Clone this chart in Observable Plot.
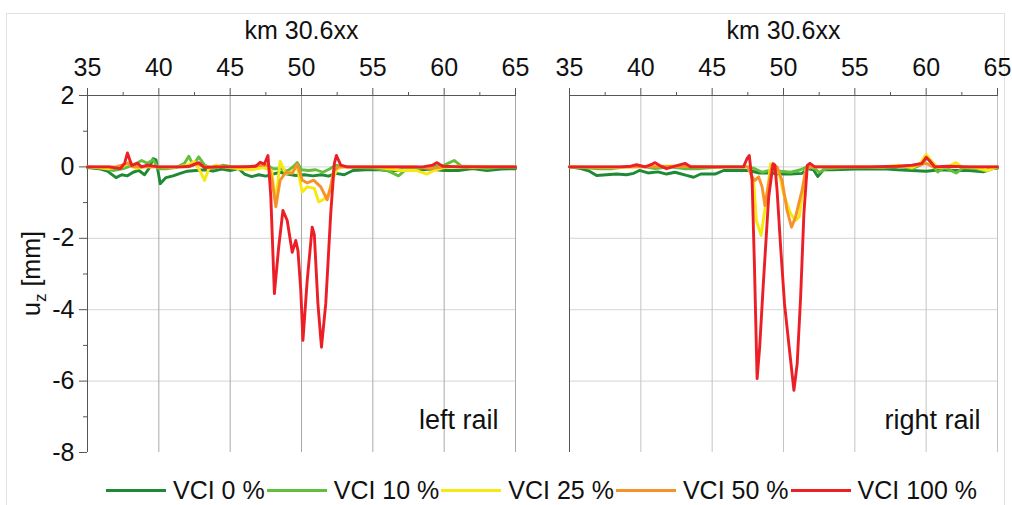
<!DOCTYPE html>
<html>
<head>
<meta charset="utf-8">
<script src="https://cdn.jsdelivr.net/npm/d3@7"></script>
<script src="https://cdn.jsdelivr.net/npm/@observablehq/plot@0.6"></script>
<style>
  body { margin: 0; background: #fff; font-family: "Liberation Sans", Arial, sans-serif; }
  #fig { position: relative; width: 1012px; height: 505px; overflow: hidden; background: #fff; }
  #frame { position: absolute; left: 6px; top: 13px; width: 999px; height: 520px; border: 1px solid #e2e2e2; box-sizing: border-box; }
  #left { position: absolute; left: 0; top: 0; }
  #right { position: absolute; left: 530px; top: 0; }
  #legend { position: absolute; left: 106px; top: 474px; height: 32px; display: flex; align-items: center; font-size: 25px; color: #111; white-space: nowrap; }
  .item { display: flex; align-items: center; margin-right: 2px; }
  .swatch { display: inline-block; width: 60px; height: 3px; margin-right: 7px; }
</style>
</head>
<body>
<div id="fig">
  <div id="frame"></div>
  <div id="left"></div>
  <div id="right"></div>
  <div id="legend"></div>
</div>
<script>
// Vertical rail displacement u_z [mm] along km 30.6xx for five VCI levels

const seriesNames = ["VCI 0 %", "VCI 10 %", "VCI 25 %", "VCI 50 %", "VCI 100 %"];
const seriesColors = ["#1f8a36", "#62bf3c", "#f6e812", "#f7922a", "#ec1f26"];

const xTicks = [35, 40, 45, 50, 55, 60, 65];
const xMinorTicks = [37.5, 42.5, 47.5, 52.5, 57.5, 62.5];
const yTicks = [2, 0, -2, -4, -6, -8];
const yMinorTicks = [1, -1, -3, -5, -7];

// left rail: [position, u_z]
const leftVci0 = [[35,-0.02],[35.8,-0.05],[36.4,-0.12],[37.0,-0.3],[37.4,-0.22],[37.8,-0.25],[38.2,-0.15],[38.6,-0.1],[39.0,-0.22],[39.3,-0.05],[39.6,0.23],[39.8,0.2],[40.1,-0.47],[40.5,-0.3],[41.0,-0.25],[41.5,-0.18],[42.0,-0.12],[42.6,-0.1],[43.2,-0.08],[43.8,-0.12],[44.4,-0.06],[45.0,-0.1],[45.6,-0.05],[46.0,-0.2],[46.5,-0.27],[47.0,-0.22],[47.5,-0.26],[48.0,-0.2],[48.5,-0.15],[49.0,-0.2],[49.6,-0.24],[50.2,-0.22],[50.8,-0.25],[51.4,-0.22],[51.9,-0.26],[52.4,-0.18],[53.0,-0.22],[53.6,-0.1],[54.5,-0.08],[55.5,-0.08],[56.3,-0.12],[57.0,-0.08],[58.0,-0.1],[59.0,-0.06],[60.0,-0.1],[61.0,-0.1],[62.0,-0.05],[63.0,-0.1],[64.0,-0.06],[65,-0.05]];
const leftVci10 = [[35,0],[36,-0.02],[36.8,-0.1],[37.5,-0.05],[38.2,0.05],[38.8,0.18],[39.2,0.1],[39.6,0.2],[40.0,-0.05],[40.6,-0.05],[41.2,-0.02],[41.8,0.1],[42.1,0.3],[42.4,0.05],[42.8,0.28],[43.2,0.05],[43.8,-0.05],[44.5,0.05],[45.2,0],[46,-0.02],[47,0.02],[47.6,0.05],[48.0,-0.05],[48.5,-0.05],[49.0,-0.12],[49.4,0.0],[49.7,0.12],[50.0,-0.08],[50.5,-0.1],[51.0,-0.08],[51.5,-0.15],[52.0,-0.05],[52.4,0.05],[53,0],[54,-0.02],[55,-0.03],[56,-0.1],[56.8,-0.25],[57.3,-0.08],[58,-0.05],[59,0],[60,0.05],[60.7,0.18],[61.2,0.02],[62,0],[63,-0.05],[64,0],[65,0]];
const leftVci25 = [[35,0],[36.5,-0.05],[37.5,0.02],[38.0,0.15],[38.4,-0.05],[39,0],[40,0],[41,-0.02],[42,0.05],[42.5,0.15],[43.0,-0.2],[43.2,-0.38],[43.5,-0.05],[44,0.05],[44.5,0],[45.5,-0.05],[46.5,-0.08],[47.3,-0.02],[47.9,-0.1],[48.2,-0.98],[48.5,0.16],[48.9,-0.19],[49.3,-0.15],[49.7,0],[50.05,-0.7],[50.4,-0.56],[50.9,-0.6],[51.2,-0.98],[51.6,-0.9],[51.9,-0.75],[52.15,-0.38],[52.5,-0.05],[53,0],[55,0],[56,-0.05],[57,-0.1],[58,-0.1],[58.8,-0.2],[59.3,-0.1],[60,-0.02],[61,0],[62,-0.02],[63,0],[65,0]];
const leftVci50 = [[35,0],[37,0],[37.8,0.1],[38.2,0],[40,0],[42,0],[42.6,0.1],[43.2,0],[45,0],[46.5,0.02],[47.3,0.05],[47.7,0.05],[47.95,-0.4],[48.2,-1.12],[48.5,-0.38],[48.9,-0.15],[49.35,-0.18],[49.7,0.08],[50.05,-0.37],[50.4,-0.45],[50.85,-0.37],[51.35,-0.56],[51.8,-0.92],[52.05,-0.56],[52.25,-0.1],[52.6,0],[55,0],[58,0],[59,-0.05],[60,0],[61,0.02],[65,0]];
const leftVci100 = [[35,0],[36.5,0],[37.3,-0.05],[37.6,0.1],[37.8,0.39],[38.1,0.04],[38.5,0.1],[38.8,0],[39.2,0.05],[40,0],[41.5,0],[42.2,0.02],[42.8,0.12],[43.2,-0.02],[44,0],[46,0],[46.8,0.02],[47.1,0.13],[47.4,0.08],[47.65,0.32],[47.85,-0.84],[48.1,-3.55],[48.4,-2.25],[48.7,-1.22],[49.0,-1.5],[49.35,-2.39],[49.6,-2.06],[49.75,-2.34],[49.95,-3.46],[50.1,-4.86],[50.4,-3.18],[50.75,-1.69],[50.9,-1.9],[51.15,-3.83],[51.4,-5.05],[51.7,-3.83],[52.05,-1.3],[52.3,0.09],[52.45,0.32],[52.75,0.05],[53.2,0],[56,0],[58.5,0],[59.2,0.05],[59.5,0.12],[59.9,0.02],[61,0],[65,0]];

// right rail: [position, u_z]
const rightVci0 = [[35,0],[35.8,-0.05],[36.4,-0.12],[36.9,-0.24],[37.6,-0.22],[38.3,-0.2],[39.0,-0.22],[39.5,-0.18],[39.9,-0.1],[40.5,-0.17],[41.2,-0.14],[41.8,-0.2],[42.4,-0.15],[43.2,-0.24],[43.7,-0.29],[44.2,-0.2],[45.2,-0.2],[45.8,-0.1],[47.0,-0.1],[47.6,-0.1],[48.3,-0.17],[49.1,-0.17],[49.7,-0.2],[50.5,-0.2],[51.3,-0.18],[51.7,-0.05],[52.1,-0.08],[52.4,-0.27],[52.8,-0.08],[53.5,-0.08],[55,-0.06],[57,-0.05],[58,-0.08],[59,-0.1],[60,-0.12],[61,-0.08],[62,-0.1],[63,-0.1],[64,-0.14],[64.5,-0.05],[65,-0.03]];
const rightVci10 = [[35,0],[36,-0.02],[37,-0.05],[38,-0.05],[39,0],[40,0.02],[41,-0.05],[42,0],[43,-0.05],[44,-0.05],[45,-0.02],[46,0],[47.5,0],[48,-0.05],[48.5,-0.15],[49.2,-0.08],[49.8,-0.12],[50.5,-0.15],[51.2,-0.08],[51.7,0.02],[52.2,-0.05],[52.5,-0.15],[53,-0.05],[55,0],[57,-0.02],[58,0.02],[59,-0.05],[59.6,0.05],[60.1,0.26],[60.5,0.0],[60.8,-0.14],[61.3,-0.02],[62.1,-0.17],[62.6,-0.02],[63.5,-0.05],[64.2,-0.12],[65,0]];
const rightVci25 = [[35,0],[38,-0.02],[40,0],[42,0.03],[44,0],[46,0],[47.5,0],[47.9,-0.38],[48.1,-1.5],[48.43,-1.92],[48.85,-0.75],[49.1,0.09],[49.3,0.04],[49.7,-0.2],[50.0,-0.75],[50.5,-1.31],[50.85,-1.5],[51.1,-1.4],[51.3,-0.84],[51.55,-0.1],[51.8,0],[55,0],[57,0],[58,0.05],[59,-0.02],[59.6,0.1],[60.0,0.35],[60.4,0.15],[60.8,-0.02],[61.5,0],[62.1,0.12],[62.5,0],[63.5,-0.02],[64.3,-0.1],[65,0]];
const rightVci50 = [[35,0],[40,0],[43,0.02],[46,0],[47.5,0],[47.8,-0.28],[48.0,-0.38],[48.26,-0.28],[48.5,-0.56],[48.7,-1.08],[48.96,-0.47],[49.2,0.04],[49.55,0],[49.9,-0.38],[50.25,-1.22],[50.56,-1.69],[50.85,-1.4],[51.1,-0.98],[51.3,-0.66],[51.55,-0.1],[51.8,0],[58,0],[59.5,0.05],[60.0,0.1],[60.5,0],[62,0],[65,0]];
const rightVci100 = [[35,0],[37,0],[38.5,0],[39.3,0.02],[39.7,0.06],[40.3,0],[40.8,0.08],[41.0,0.12],[41.4,0.02],[41.8,-0.05],[42.4,0.02],[43.1,0.1],[43.5,0],[44.5,0],[46,0],[47.2,0],[47.44,0.23],[47.6,0.32],[47.8,-0.38],[47.96,-2.71],[48.15,-5.93],[48.33,-5.05],[48.6,-3.18],[48.96,-0.85],[49.27,0.09],[49.4,0.05],[49.55,-0.66],[49.8,-2.25],[50.07,-3.83],[50.37,-4.95],[50.73,-6.26],[50.96,-5.51],[51.2,-3.65],[51.43,-1.31],[51.67,0.04],[51.85,0.1],[52.2,0],[56,0],[58,0.02],[59,0.05],[59.7,0.1],[60.0,0.27],[60.3,0.15],[60.6,0],[61.5,0.02],[63,0],[65,0]];

const leftSeries = [leftVci0, leftVci10, leftVci25, leftVci50, leftVci100];
const rightSeries = [rightVci0, rightVci10, rightVci25, rightVci50, rightVci100];

function toRows(list) {
  return list.flatMap((pts, i) => pts.map(([x, y]) => ({series: seriesNames[i], x, y})));
}

const fontFamily = '"Liberation Sans", Arial, sans-serif';
const fmt = d => (d < 0 ? "-" + Math.abs(d) : String(d));

function panel({rows, railLabel, width, marginLeft, showY, gridColor}) {
  const marks = [
    Plot.gridY([0, -2, -4, -6], {stroke: "#d4d4d4", strokeOpacity: 1}),
    Plot.gridX(xTicks.slice(1), {stroke: gridColor, strokeOpacity: 1}),
    Plot.ruleY([2], {stroke: "#555"}),
    Plot.ruleX([35], {stroke: "#555"}),
    Plot.axisX(xTicks, {anchor: "top", tickSize: 8, tickPadding: 12, label: null, fontSize: 25, stroke: "#555"}),
    Plot.axisX(xMinorTicks, {anchor: "top", tickSize: 4, tickFormat: () => "", label: null, stroke: "#555"}),
    Plot.text(["km 30.6xx"], {frameAnchor: "top", dy: -74, fontSize: 25, fill: "#111"}),
    Plot.text([railLabel], {frameAnchor: "bottom-right", dx: -17, dy: -32, lineAnchor: "middle", fontSize: 27, fill: "#111"}),
    Plot.line(rows, {x: "x", y: "y", z: "series", stroke: "series", strokeWidth: 2.9, strokeLinejoin: "round"})
  ];
  if (showY) {
    marks.push(
      Plot.axisY(yTicks, {tickSize: 8, tickPadding: 5, tickFormat: fmt, label: null, fontSize: 25, stroke: "#555"}),
      Plot.axisY(yMinorTicks, {tickSize: 4, tickFormat: () => "", label: null, stroke: "#555"})
    );
  }
  return Plot.plot({
    width, height: 470,
    marginLeft, marginRight: 15, marginTop: 95, marginBottom: 18,
    style: {fontFamily, color: "#111", background: "transparent"},
    x: {domain: [35, 65]},
    y: {domain: [-8, 2], axis: showY ? undefined : null},
    color: {domain: seriesNames, range: seriesColors},
    marks
  });
}

const leftPlot = panel({rows: toRows(leftSeries), railLabel: "left rail", width: 530, marginLeft: 87, showY: true, gridColor: "#a9a9a9"});
const rightPlot = panel({rows: toRows(rightSeries), railLabel: "right rail", width: 482, marginLeft: 39, showY: false, gridColor: "#c4c4c4"});

// y-axis title with subscript
{
  const yr = leftPlot.scale("y").range;
  const cy = (yr[0] + yr[1]) / 2;
  const t = d3.select(leftPlot).append("text")
    .attr("transform", `translate(40,${cy}) rotate(-90)`)
    .attr("text-anchor", "middle")
    .attr("font-size", 25)
    .attr("font-family", fontFamily)
    .attr("fill", "#111");
  t.append("tspan").text("u");
  t.append("tspan").attr("font-size", 17).attr("dy", 6).text("z");
  t.append("tspan").attr("dy", -6).text(" [mm]");
}

document.getElementById("left").appendChild(leftPlot);
document.getElementById("right").appendChild(rightPlot);

// legend
const legend = d3.select("#legend");
seriesNames.forEach((name, i) => {
  const item = legend.append("div").attr("class", "item");
  item.append("span").attr("class", "swatch").style("background", seriesColors[i]);
  item.append("span").text(name);
});
</script>
</body>
</html>
